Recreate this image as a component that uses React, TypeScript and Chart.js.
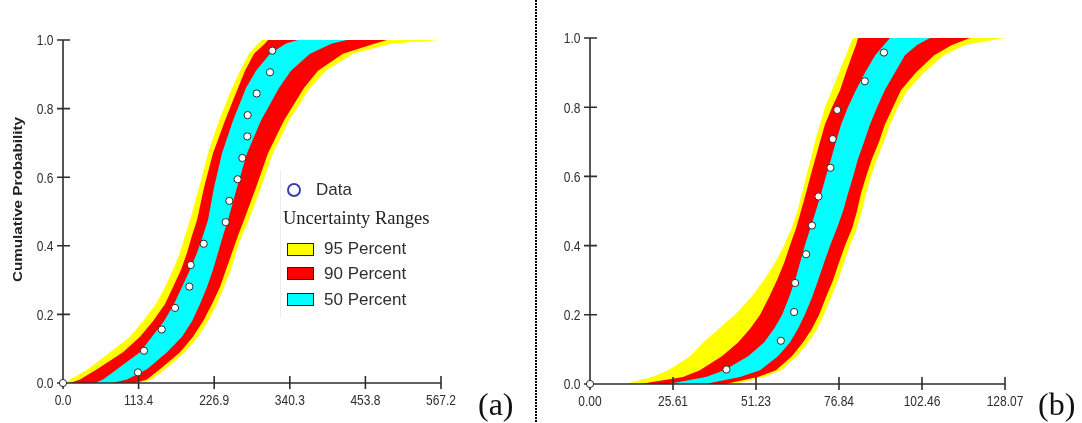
import React, { useEffect, useRef } from 'react';
import { Chart, registerables } from 'chart.js';

Chart.register(...registerables);

// ---------- Panel (a) ----------
const probA = [0, 0.01, 0.04, 0.09, 0.135, 0.18, 0.23, 0.28, 0.33, 0.38, 0.43, 0.475, 0.57, 0.67, 0.765, 0.86, 0.91, 0.96, 0.99, 1.0];
const yellowLoA = [4.5, 10.5, 37.5, 70.5, 100.5, 120.0, 139.5, 153.1, 165.1, 175.6, 183.1, 190.6, 204.1, 217.6, 234.1, 253.6, 265.6, 279.1, 292.6, 298.6];
const redLoA = [10.5, 25.5, 51.0, 90.0, 115.5, 135.0, 153.1, 165.1, 177.1, 186.1, 193.6, 201.1, 211.6, 225.1, 243.1, 262.6, 273.1, 286.6, 303.1, 307.6];
const cyanLoA = [48.0, 60.0, 81.0, 115.5, 133.5, 151.6, 166.6, 178.6, 190.6, 201.1, 210.1, 217.6, 226.6, 238.6, 255.1, 274.6, 289.6, 310.6, 334.6, 352.6];
const cyanHiA = [73.5, 96.0, 126.0, 156.1, 178.6, 193.6, 205.6, 216.1, 225.1, 232.6, 240.1, 247.6, 261.1, 276.1, 297.1, 324.1, 342.1, 370.6, 403.6, 426.1];
const redHiA = [108.0, 126.0, 145.5, 175.6, 195.1, 210.1, 223.6, 235.6, 244.6, 253.6, 262.6, 271.6, 289.6, 307.6, 331.6, 361.6, 382.6, 420.1, 468.2, 486.2];
const yellowHiA = [115.5, 133.5, 153.1, 183.1, 202.6, 217.6, 231.1, 241.6, 252.1, 259.6, 268.6, 279.1, 297.1, 315.1, 339.1, 370.6, 394.6, 435.1, 493.7, 565.7];
const dataProbA = [0, 0.031, 0.094, 0.156, 0.219, 0.281, 0.344, 0.406, 0.469, 0.531, 0.594, 0.656, 0.719, 0.781, 0.844, 0.906, 0.969];
const dataValA = [0, 112.5, 121.5, 148.1, 168.1, 189.6, 191.6, 211.1, 244.1, 249.6, 262.1, 269.1, 276.6, 277.1, 290.6, 310.6, 314.1];
const xTicksA = [0, 113.44, 226.88, 340.32, 453.76, 567.2];
const xTickLabelsA = ['0.0', '113.4', '226.9', '340.3', '453.8', '567.2'];

// ---------- Panel (b) ----------
const probB = [0, 0.02, 0.04, 0.08, 0.12, 0.16, 0.2, 0.25, 0.3, 0.35, 0.4, 0.45, 0.5, 0.55, 0.6, 0.65, 0.7, 0.75, 0.8, 0.85, 0.9, 0.95, 0.98, 1.0];
const yellowLoB = [10.8, 19.1, 24.1, 30.9, 34.9, 39.8, 44.7, 49.7, 53.7, 57.1, 59.9, 62.2, 64.0, 65.4, 66.7, 68.1, 69.4, 71.0, 72.5, 74.7, 76.8, 79.0, 80.2, 81.2];
const redLoB = [15.4, 28.7, 33.9, 40.7, 45.7, 49.4, 52.5, 55.2, 57.7, 59.9, 61.7, 63.6, 65.1, 66.6, 68.0, 69.5, 71.0, 72.5, 74.7, 77.2, 79.0, 80.9, 82.1, 82.7];
const cyanLoB = [24.1, 35.8, 41.4, 48.8, 53.7, 56.8, 59.3, 61.4, 63.3, 64.8, 66.3, 68.0, 69.7, 71.3, 72.8, 74.4, 75.9, 77.5, 79.6, 82.1, 84.9, 88.0, 90.7, 92.6];
const cyanHiB = [35.5, 46.3, 52.5, 58.0, 61.7, 64.2, 66.3, 68.5, 70.4, 72.2, 74.1, 76.2, 78.1, 79.6, 81.2, 82.7, 84.6, 86.4, 88.6, 91.0, 94.1, 97.2, 100.9, 104.9];
const redHiB = [41.7, 51.8, 57.4, 62.3, 65.7, 68.5, 70.7, 72.8, 75.0, 76.8, 78.7, 80.9, 82.4, 83.6, 85.2, 87.0, 89.2, 91.0, 93.5, 96.0, 100.6, 106.2, 111.7, 117.3];
const yellowHiB = [44.7, 53.7, 58.9, 63.9, 67.3, 70.1, 72.2, 74.4, 76.5, 78.4, 80.2, 82.4, 83.9, 85.2, 86.7, 88.6, 90.7, 92.6, 95.0, 98.1, 103.1, 109.2, 115.7, 128.0];
const dataProbB = [0, 0.042, 0.125, 0.208, 0.292, 0.375, 0.458, 0.542, 0.625, 0.708, 0.792, 0.875, 0.958];
const dataValB = [0, 42.1, 58.9, 63.0, 63.3, 66.7, 68.5, 70.5, 74.2, 74.9, 76.3, 84.8, 90.7];
const xTicksB = [0, 25.614, 51.228, 76.842, 102.456, 128.07];
const xTickLabelsB = ['0.00', '25.61', '51.23', '76.84', '102.46', '128.07'];

// ---------- Shared ----------
const yTicks = [0, 0.2, 0.4, 0.6, 0.8, 1.0];
const yTickLabels = ['0.0', '0.2', '0.4', '0.6', '0.8', '1.0'];
const yTitle = 'Cumulative Probability';

const YELLOW = '#ffff00';
const RED = '#ff0000';
const CYAN = '#00ffff';
const AXIS_COLOR = '#2e2e2e';
const TEXT_COLOR = '#2e2e2e';
const SANS = '"Liberation Sans", Arial, sans-serif';
const SERIF = '"Liberation Serif", "Times New Roman", serif';
const STRETCH = 1.27; // axis lettering is taller than it is wide

// A closed band outline: up the lower bound, back down the upper bound.
function bandShape(prob: number[], lo: number[], hi: number[]) {
  const pts: { x: number; y: number }[] = [];
  for (let i = 0; i < prob.length; i++) pts.push({ x: lo[i], y: prob[i] });
  for (let i = prob.length - 1; i >= 0; i--) pts.push({ x: hi[i], y: prob[i] });
  return pts;
}

function stretchedText(ctx: CanvasRenderingContext2D, text: string, x: number, y: number, align: CanvasTextAlign) {
  ctx.save();
  ctx.translate(x, y);
  ctx.scale(1, STRETCH);
  ctx.textAlign = align;
  ctx.textBaseline = 'alphabetic';
  ctx.fillText(text, 0, 0);
  ctx.restore();
}

// Axes with crossing tick marks, drawn under the data markers.
const panelAxes = {
  id: 'panelAxes',
  beforeDatasetDraw(chart: any, args: any, opts: any) {
    if (args.index !== 0) return;
    const ctx: CanvasRenderingContext2D = chart.ctx;
    const xs = chart.scales.x;
    const ys = chart.scales.y;
    const left = xs.getPixelForValue(xs.min);
    const right = xs.getPixelForValue(xs.max);
    const bottom = ys.getPixelForValue(ys.min);
    const top = ys.getPixelForValue(ys.max);
    ctx.save();
    ctx.strokeStyle = AXIS_COLOR;
    ctx.lineWidth = 1.6;
    ctx.beginPath();
    ctx.moveTo(left, top);
    ctx.lineTo(left, bottom);
    ctx.lineTo(right, bottom);
    for (const v of opts.xTicks as number[]) {
      const px = xs.getPixelForValue(v);
      ctx.moveTo(px, bottom - 7);
      ctx.lineTo(px, bottom + 6);
    }
    for (const v of opts.yTicks as number[]) {
      const py = ys.getPixelForValue(v);
      ctx.moveTo(left - 6, py);
      ctx.lineTo(left + 7, py);
    }
    ctx.stroke();

    const fs = 12;
    ctx.fillStyle = TEXT_COLOR;
    ctx.font = `${fs}px ${SANS}`;
    const capHalf = 0.358 * fs * STRETCH;
    (opts.xTicks as number[]).forEach((v, i) => {
      stretchedText(ctx, opts.xLabels[i], xs.getPixelForValue(v), bottom + 17 + capHalf, 'center');
    });
    (opts.yTicks as number[]).forEach((v, i) => {
      stretchedText(ctx, opts.yLabels[i], left - 9.5, ys.getPixelForValue(v) + capHalf, 'right');
    });

    if (opts.title) {
      ctx.save();
      ctx.translate(opts.titleX, (top + bottom) / 2 - 12);
      ctx.rotate(-Math.PI / 2);
      ctx.scale(STRETCH, 1);
      ctx.font = `bold ${fs}px ${SANS}`;
      ctx.fillStyle = '#222';
      ctx.textAlign = 'center';
      ctx.textBaseline = 'alphabetic';
      ctx.fillText(opts.title, 0, 0.26 * fs);
      ctx.restore();
    }
    ctx.restore();
  },
};

type PanelSpec = {
  prob: number[];
  yellowLo: number[];
  yellowHi: number[];
  redLo: number[];
  redHi: number[];
  cyanLo: number[];
  cyanHi: number[];
  dataProb: number[];
  dataVal: number[];
  xMax: number;
  xTicks: number[];
  xLabels: string[];
  title?: string;
  padding: { left: number; right: number; top: number; bottom: number };
};

const panelA: PanelSpec = {
  prob: probA,
  yellowLo: yellowLoA,
  yellowHi: yellowHiA,
  redLo: redLoA,
  redHi: redHiA,
  cyanLo: cyanLoA,
  cyanHi: cyanHiA,
  dataProb: dataProbA,
  dataVal: dataValA,
  xMax: 567.2,
  xTicks: xTicksA,
  xLabels: xTickLabelsA,
  title: yTitle,
  padding: { left: 63, right: 94, top: 40, bottom: 40 },
};

const panelB: PanelSpec = {
  prob: probB,
  yellowLo: yellowLoB,
  yellowHi: yellowHiB,
  redLo: redLoB,
  redHi: redHiB,
  cyanLo: cyanLoB,
  cyanHi: cyanHiB,
  dataProb: dataProbB,
  dataVal: dataValB,
  xMax: 128.07,
  xTicks: xTicksB,
  xLabels: xTickLabelsB,
  padding: { left: 53, right: 77, top: 38, bottom: 39 },
};

function Panel({ spec, left, width }: { spec: PanelSpec; left: number; width: number }) {
  const ref = useRef<HTMLCanvasElement>(null);
  useEffect(() => {
    if (!ref.current) return;
    const band = (lo: number[], hi: number[], color: string) => ({
      type: 'line' as const,
      data: bandShape(spec.prob, lo, hi),
      fill: 'shape',
      backgroundColor: color,
      borderColor: 'rgba(0,0,0,0)',
      borderWidth: 0,
      pointRadius: 0,
      tension: 0,
    });
    const chart = new Chart(ref.current, {
      type: 'line',
      data: {
        datasets: [
          {
            label: 'Data',
            data: spec.dataVal.map((v, i) => ({ x: v, y: spec.dataProb[i] })),
            showLine: false,
            pointRadius: 3.6,
            pointBackgroundColor: '#ffffff',
            pointBorderColor: '#2a2a2a',
            pointBorderWidth: 1,
            clip: false,
          } as any,
          band(spec.cyanLo, spec.cyanHi, CYAN),
          band(spec.redLo, spec.redHi, RED),
          band(spec.yellowLo, spec.yellowHi, YELLOW),
        ],
      },
      options: {
        responsive: false,
        animation: false,
        events: [],
        layout: { padding: spec.padding, autoPadding: false },
        scales: {
          x: { type: 'linear', min: 0, max: spec.xMax, display: false },
          y: { type: 'linear', min: 0, max: 1, display: false },
        },
        plugins: {
          legend: { display: false },
          tooltip: { enabled: false },
          panelAxes: {
            xTicks: spec.xTicks,
            xLabels: spec.xLabels,
            yTicks: yTicks,
            yLabels: yTickLabels,
            title: spec.title,
            titleX: 18.5,
          },
        } as any,
      },
      plugins: [panelAxes],
    });
    return () => chart.destroy();
  }, [spec]);
  return (
    <canvas
      ref={ref}
      width={width}
      height={423}
      style={{ position: 'absolute', left, top: 0, width, height: 423 }}
    />
  );
}

const legendText: React.CSSProperties = {
  position: 'absolute',
  font: `17px ${SANS}`,
  lineHeight: '20px',
  color: '#2e2e2e',
  whiteSpace: 'nowrap',
};

const legendRows = [
  { color: YELLOW, label: '95 Percent', top: 243, textTop: 239 },
  { color: RED, label: '90 Percent', top: 267, textTop: 264 },
  { color: CYAN, label: '50 Percent', top: 293, textTop: 290 },
];

export default function App() {
  return (
    <div
      style={{
        position: 'fixed',
        left: 0,
        top: 0,
        width: 1082,
        height: 423,
        background: '#ffffff',
        overflow: 'hidden',
      }}
    >
      <Panel spec={panelA} left={0} width={535} />
      <Panel spec={panelB} left={537} width={545} />

      {/* dotted divider between the two panels */}
      <div
        style={{
          position: 'absolute',
          left: 535,
          top: 0,
          width: 2,
          height: 423,
          backgroundImage: 'repeating-linear-gradient(to bottom, #000 0px, #000 2px, transparent 2px, transparent 3px)',
        }}
      />

      {/* legend of panel (a) */}
      <div style={{ position: 'absolute', left: 280, top: 170, width: 1, height: 148, background: '#ececec' }} />
      <div
        style={{
          position: 'absolute',
          left: 287,
          top: 183,
          width: 14,
          height: 14,
          borderRadius: '50%',
          border: '2px solid #3d3db0',
          boxSizing: 'border-box',
          background: '#fff',
        }}
      />
      <div style={{ ...legendText, left: 316, top: 180 }}>Data</div>
      <div style={{ ...legendText, left: 283, top: 207, font: `18.5px ${SERIF}`, lineHeight: '22px', color: '#222' }}>
        Uncertainty Ranges
      </div>
      {legendRows.map((r) => (
        <React.Fragment key={r.label}>
          <div
            style={{
              position: 'absolute',
              left: 287,
              top: r.top,
              width: 27,
              height: 13,
              background: r.color,
              border: '1px solid #222',
              boxSizing: 'border-box',
            }}
          />
          <div style={{ ...legendText, left: 324, top: r.textTop }}>{r.label}</div>
        </React.Fragment>
      ))}

      {/* panel captions */}
      <div style={{ position: 'absolute', left: 478, top: 386, font: `32px ${SERIF}`, lineHeight: '36px', color: '#111' }}>(a)</div>
      <div style={{ position: 'absolute', left: 1038, top: 386, font: `32px ${SERIF}`, lineHeight: '36px', color: '#111' }}>(b)</div>
    </div>
  );
}
